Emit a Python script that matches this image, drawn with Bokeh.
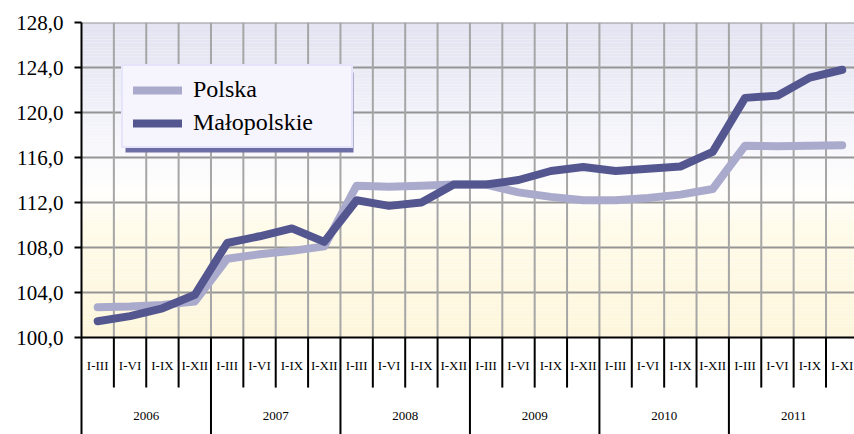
import numpy as np
from bokeh.plotting import figure
from bokeh.models import Range1d, FixedTicker, Legend, LegendItem, ColumnDataSource, BoxAnnotation
from bokeh.embed import file_html
from bokeh.resources import INLINE
from bokeh.core.properties import value

# ---------------- data ----------------
years = ["2006", "2007", "2008", "2009", "2010", "2011"]
periods = ["I-III", "I-VI", "I-IX", "I-XII",
           "I-III", "I-VI", "I-IX", "I-XII",
           "I-III", "I-VI", "I-IX", "I-XII",
           "I-III", "I-VI", "I-IX", "I-XII",
           "I-III", "I-VI", "I-IX", "I-XII",
           "I-III", "I-VI", "I-IX", "I-XI"]
polska = [102.7, 102.75, 102.9, 103.2,
          107.0, 107.4, 107.7, 108.1,
          113.5, 113.4, 113.5, 113.6,
          113.6, 112.9, 112.5, 112.2,
          112.2, 112.4, 112.7, 113.2,
          117.05, 117.0, 117.05, 117.1]
malopolskie = [101.45, 101.9, 102.6, 103.8,
               108.4, 109.0, 109.7, 108.5,
               112.2, 111.7, 112.0, 113.6,
               113.6, 114.0, 114.8, 115.15,
               114.8, 115.0, 115.2, 116.5,
               121.3, 121.5, 123.1, 123.8]
y_ticks = [100, 104, 108, 112, 116, 120, 124, 128]

# ---------------- layout constants ----------------
Y_MIN, Y_MAX = y_ticks[0], y_ticks[-1]
Y_BOTTOM = 91.38
n = len(periods)
per_year = 4
X_END = 23.88
FONT = "Liberation Serif"
C_POL = "#aaaacc"
C_MAL = "#545690"

p = figure(width=854, height=434,
           x_range=Range1d(0, X_END), y_range=Range1d(Y_BOTTOM, Y_MAX),
           min_border_left=81, min_border_right=0, min_border_top=22, min_border_bottom=0,
           output_backend="svg", toolbar_location=None)
p.outline_line_color = None
p.background_fill_color = "white"
p.border_fill_color = "white"
p.grid.visible = False
p.xaxis.visible = False

# y axis
ya = p.yaxis[0]
ya.ticker = FixedTicker(ticks=y_ticks)
ya.major_label_overrides = {t: f"{t:.1f}".replace(".", ",") for t in y_ticks}
ya.axis_line_width = 2
ya.axis_line_color = "black"
ya.major_tick_line_width = 2
ya.major_tick_out = 7
ya.major_tick_in = 0
ya.minor_tick_line_color = None
ya.major_label_text_font = FONT
ya.major_label_text_font_size = "21px"
ya.major_label_text_color = "black"
ya.major_label_standoff = 11

# background gradient (lavender at top -> white -> cream at bottom)
stops_v = [100, 110, 113, 117, 128]
stops_c = [(253, 246, 220), (255, 251, 234), (255, 254, 252), (247, 247, 252), (226, 226, 241)]
edges = np.linspace(Y_MIN, Y_MAX, 113)
mids = (edges[:-1] + edges[1:]) / 2
cols = []
for m in mids:
    rgb = [int(round(np.interp(m, stops_v, [c[k] for c in stops_c]))) for k in range(3)]
    cols.append("#%02x%02x%02x" % tuple(rgb))
p.quad(left=0, right=n, bottom=edges[:-1], top=edges[1:], fill_color=cols, line_color=None)

# grid
p.segment(x0=0, x1=n, y0=y_ticks[1:], y1=y_ticks[1:], line_color="#959595", line_width=2)
bounds = list(range(1, n + 1))
p.segment(x0=bounds, x1=bounds, y0=Y_MIN, y1=Y_MAX, line_color="#a6a6a6", line_width=2)

# category axis (two-level) drawn below
p.segment(x0=0, x1=n, y0=Y_MIN, y1=Y_MIN, line_color="black", line_width=2)
q_sep = [i for i in range(1, n) if i % per_year != 0]
y_sep = [i for i in range(per_year, n, per_year)]
p.segment(x0=q_sep, x1=q_sep, y0=Y_MIN, y1=Y_MIN - 4.45, line_color="black", line_width=2)
p.segment(x0=y_sep, x1=y_sep, y0=Y_MIN, y1=Y_BOTTOM, line_color="black", line_width=2)
xc = [i + 0.5 for i in range(n)]
p.text(x=xc, y=[Y_MIN - 2.49] * n, text=periods, text_align="center", text_baseline="middle",
       text_font=value(FONT), text_font_size="13px", text_color="black")
yc = [per_year * j + per_year / 2 for j in range(len(years))]
p.text(x=yc, y=[Y_MIN - 7.0] * len(years), text=years, text_align="center", text_baseline="middle",
       text_font=value(FONT), text_font_size="13px", text_color="black")

# series
src = ColumnDataSource(dict(x=xc, pol=polska, mal=malopolskie))
r1 = p.line("x", "pol", source=src, line_color=C_POL, line_width=8, line_join="round", line_cap="round")
r2 = p.line("x", "mal", source=src, line_color=C_MAL, line_width=8, line_join="round", line_cap="round")

# legend shadow + legend (screen units measured from the frame's bottom-left)
shadow = BoxAnnotation(left=44, right=272, top=362, bottom=282,
                       left_units="screen", right_units="screen", top_units="screen", bottom_units="screen",
                       fill_color="#6e6ea6", fill_alpha=1.0, line_color=None)
p.add_layout(shadow)
legend = Legend(items=[LegendItem(label="Polska", renderers=[r1]),
                       LegendItem(label="Małopolskie", renderers=[r2])],
                location=(40, 286), margin=0, padding=10, spacing=6,
                glyph_width=49, glyph_height=24, label_height=24, label_width=148,
                label_standoff=11,
                label_text_font=FONT, label_text_font_size="24px", label_text_color="black",
                background_fill_color="#f6f4fd", background_fill_alpha=1.0,
                border_line_color="#d4d4fa", border_line_width=2)
p.add_layout(legend)

open("out.html", "w").write(file_html(p, INLINE))
